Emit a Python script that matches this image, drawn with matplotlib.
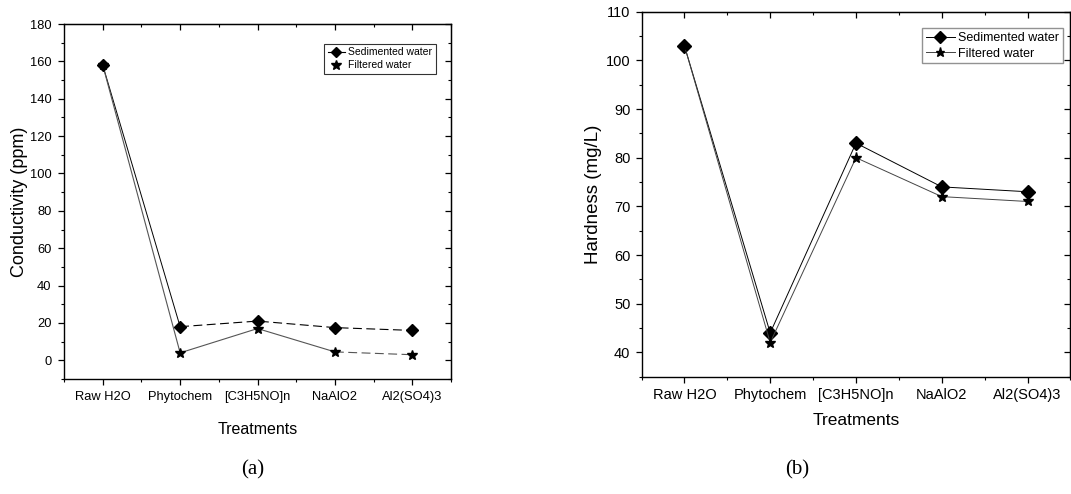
import matplotlib
matplotlib.use("Agg")
import matplotlib.pyplot as plt
from matplotlib.ticker import MultipleLocator
from matplotlib.lines import Line2D

plt.rcParams["font.family"] = ["Liberation Sans", "DejaVu Sans"]

treatments = ["Raw H2O", "Phytochem", "[C3H5NO]n", "NaAlO2", "Al2(SO4)3"]
x = [1, 2, 3, 4, 5]

# (a) conductivity, ppm
cond_sed = [158, 18, 21, 17.5, 16]
cond_fil = [158, 4, 17, 4.5, 3]

# (b) hardness, mg/L
hard_sed = [103, 44, 83, 74, 73]
hard_fil = [103, 42, 80, 72, 71]


def style_axes(ax, ymajor, yminor, lab_size, pad):
    ax.set_xlim(0.5, 5.5)
    ax.set_xticks(x)
    ax.set_xticklabels(treatments, fontsize=lab_size)
    ax.xaxis.set_minor_locator(MultipleLocator(0.5))
    ax.yaxis.set_major_locator(MultipleLocator(ymajor))
    ax.yaxis.set_minor_locator(MultipleLocator(yminor))
    ax.tick_params(axis="both", which="major", direction="out", length=4,
                   width=0.9, labelsize=lab_size, pad=pad)
    ax.tick_params(axis="both", which="minor", direction="out", length=2.5,
                   width=0.8)
    for s in ax.spines.values():
        s.set_linewidth(1.0)


def mirror_inward(ax):
    # Origin-style: top/right ticks point inward
    sec_x = ax.secondary_xaxis("top")
    sec_x.set_xticks(x)
    sec_x.xaxis.set_minor_locator(MultipleLocator(0.5))
    sec_x.tick_params(which="major", direction="in", length=4, width=0.9,
                      labeltop=False)
    sec_x.tick_params(which="minor", direction="in", length=2.5, width=0.8)
    sec_y = ax.secondary_yaxis("right")
    sec_y.yaxis.set_major_locator(ax.yaxis.get_major_locator())
    sec_y.yaxis.set_minor_locator(ax.yaxis.get_minor_locator())
    sec_y.tick_params(which="major", direction="in", length=4, width=0.9,
                      labelright=False)
    sec_y.tick_params(which="minor", direction="in", length=2.5, width=0.8)
    ax.tick_params(axis="x", which="both", top=False)
    ax.tick_params(axis="y", which="both", right=False)


fig = plt.figure(figsize=(10.71, 4.94), dpi=100)

# ===================== (a) conductivity =====================
ax1 = fig.add_axes([0.0598, 0.2328, 0.3613, 0.7186])
ax1.plot(x[:2], cond_sed[:2], "-", color="black", lw=0.7)
ax1.plot(x[1:], cond_sed[1:], linestyle=(0, (8, 4)), color="black", lw=0.8)
ax1.plot(x[:4], cond_fil[:4], "-", color="#555555", lw=0.8)
ax1.plot(x[3:], cond_fil[3:], linestyle=(0, (8, 4)), color="#555555", lw=0.8)
ax1.plot(x, cond_sed, "D", color="black", ms=6, ls="none")
ax1.plot(x, cond_fil, "*", color="black", ms=7, ls="none")
ax1.set_ylim(-10, 180)
style_axes(ax1, 20, 10, 9.3, 5)
mirror_inward(ax1)
ax1.set_ylabel("Conductivity (ppm)", fontsize=13, labelpad=1)
ax1.set_xlabel("Treatments", fontsize=11.5, labelpad=13)
h1 = [Line2D([], [], color="black", lw=0.8, marker="D", ms=5),
      Line2D([], [], color="black", lw=0, marker="*", ms=7)]
leg1 = ax1.legend(h1, ["Sedimented water", "Filtered water"],
                  loc="upper right", bbox_to_anchor=(0.96, 0.945),
                  fontsize=7.5, frameon=True, fancybox=False,
                  handlelength=1.6, handletextpad=0.3, borderpad=0.35,
                  labelspacing=0.3, borderaxespad=0)
leg1.get_frame().set_edgecolor("black")
leg1.get_frame().set_linewidth(0.8)

# ===================== (b) hardness =====================
ax2 = fig.add_axes([0.599, 0.2375, 0.4005, 0.7388])
ax2.plot(x, hard_sed, "-", color="black", lw=0.7, marker="D", ms=7)
ax2.plot(x, hard_fil, "-", color="#444444", lw=0.7, marker="*", ms=8,
         mfc="black", mec="black")
ax2.set_ylim(35, 110)
style_axes(ax2, 10, 5, 10.5, 4)
mirror_inward(ax2)
ax2.set_ylabel("Hardness (mg/L)", fontsize=13.5, labelpad=3)
ax2.set_xlabel("Treatments", fontsize=12.5, labelpad=8)
leg2 = ax2.legend(["Sedimented water", "Filtered water"],
                  loc="upper right", bbox_to_anchor=(0.983, 0.955),
                  fontsize=9, frameon=True, fancybox=False,
                  handlelength=2.3, handletextpad=0.3, borderpad=0.3,
                  labelspacing=0.3, borderaxespad=0, markerscale=0.85)
leg2.get_frame().set_edgecolor("#777777")
leg2.get_frame().set_linewidth(1.0)

fig.text(0.236, 0.048, "(a)", family=["Liberation Serif", "DejaVu Serif"],
         fontsize=15, ha="center", va="center")
fig.text(0.744, 0.048, "(b)", family=["Liberation Serif", "DejaVu Serif"],
         fontsize=15, ha="center", va="center")

fig.savefig("out.png", dpi=100)
